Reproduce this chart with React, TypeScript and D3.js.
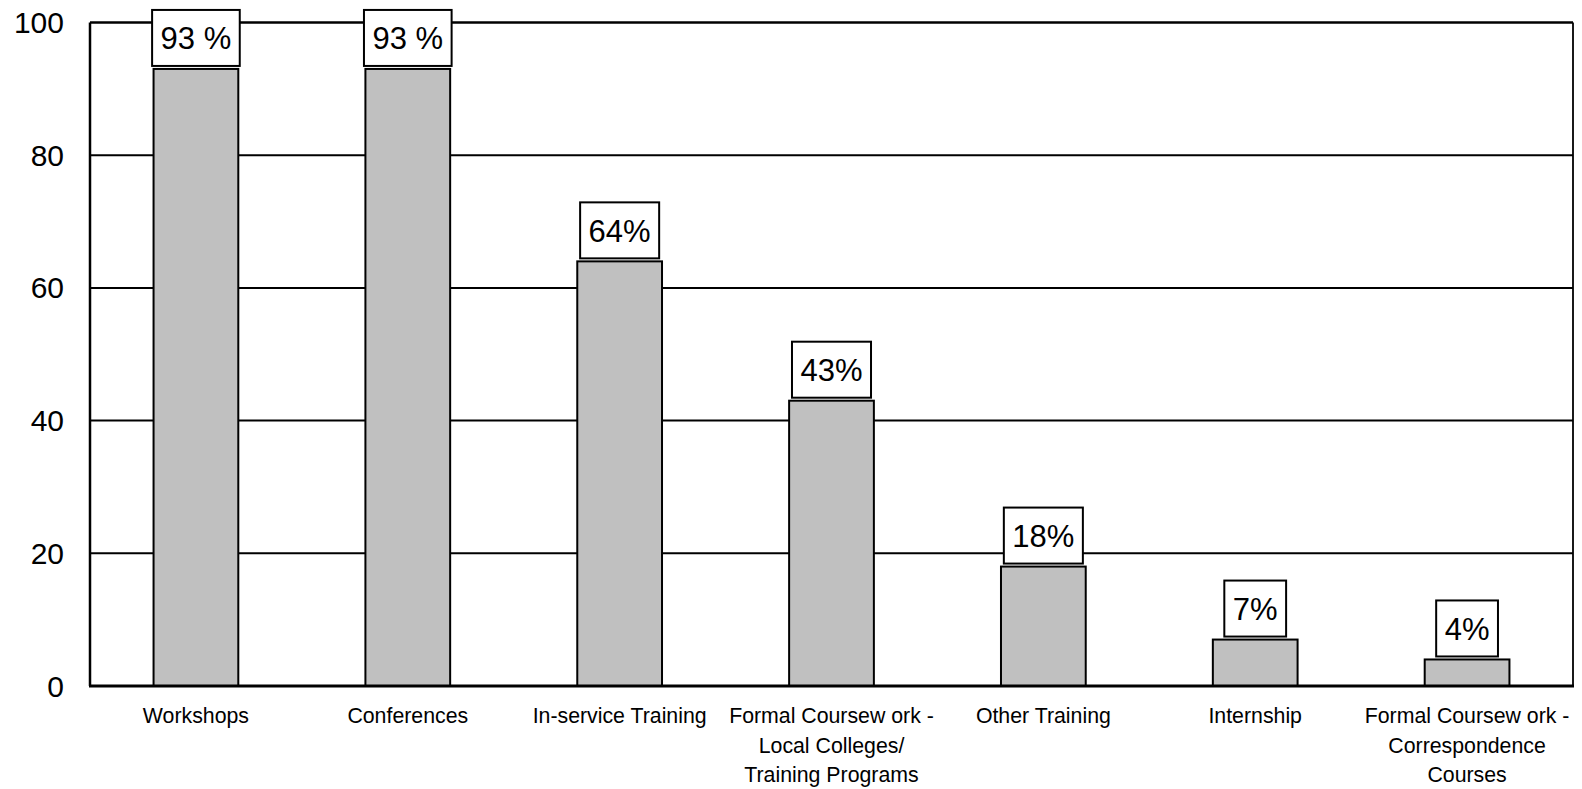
import React from "react";
import * as d3 from "d3";

const categories: string[][] = [
  ["Workshops"],
  ["Conferences"],
  ["In-service Training"],
  ["Formal Coursew ork -", "Local Colleges/", "Training Programs"],
  ["Other Training"],
  ["Internship"],
  ["Formal Coursew ork -", "Correspondence", "Courses"],
];
const values: number[] = [93, 93, 64, 43, 18, 7, 4];
const valueLabels: string[] = ["93 %", "93 %", "64%", "43%", "18%", "7%", "4%"];
const yTicks: number[] = [0, 20, 40, 60, 80, 100];

const W = 1582;
const H = 789;
const left = 90;
const right = 1573;
const top = 22.5;
const bottom = 686;
const font = "'Liberation Sans', Arial, sans-serif";

function textWidth(s: string, size: number): number {
  const w: Record<string, number> = { "%": 0.889, " ": 0.278 };
  let t = 0;
  for (const c of s) t += w[c] ?? 0.556;
  return t * size;
}

export default function App() {
  const x = d3
    .scaleBand<number>()
    .domain(d3.range(categories.length))
    .range([left, right])
    .paddingInner(0.6)
    .paddingOuter(0.3);
  const y = d3.scaleLinear().domain([0, 100]).range([bottom, top]);

  return (
    <svg width={W} height={H} style={{ position: "absolute", left: 0, top: 0, background: "#fff" }}>
      <rect x={0} y={0} width={W} height={H} fill="#fff" />
      {yTicks
        .filter((t) => t !== 0)
        .map((t) => (
          <line key={"g" + t} x1={left} x2={right} y1={y(t)} y2={y(t)} stroke="#000" strokeWidth={t === 100 ? 2.5 : 2} />
        ))}
      <line x1={left} x2={left} y1={top} y2={bottom} stroke="#000" strokeWidth={2.5} />
      <line x1={right} x2={right} y1={top} y2={bottom} stroke="#000" strokeWidth={1.8} />
      {values.map((v, i) => {
        const bx = x(i)!;
        const bw = x.bandwidth();
        const by = y(v);
        const cx = bx + bw / 2;
        const tw = textWidth(valueLabels[i], 31);
        const boxW = tw + 17;
        const boxH = 56;
        const boxBottom = by - 3;
        return (
          <g key={i}>
            <rect x={bx} y={by} width={bw} height={bottom - by} fill="#c0c0c0" stroke="#000" strokeWidth={2} />
            <rect x={cx - boxW / 2} y={boxBottom - boxH} width={boxW} height={boxH} fill="#fff" stroke="#000" strokeWidth={2} />
            <text x={cx} y={boxBottom - boxH / 2 + 11.3} textAnchor="middle" fontFamily={font} fontSize={31} fill="#000">
              {valueLabels[i]}
            </text>
          </g>
        );
      })}
      <line x1={left - 1} x2={right + 1} y1={bottom} y2={bottom} stroke="#000" strokeWidth={2.8} />
      {yTicks.map((t) => (
        <text key={"t" + t} x={64} y={y(t) + 10.5} textAnchor="end" fontFamily={font} fontSize={30} fill="#000">
          {t}
        </text>
      ))}
      {categories.map((lines, i) => {
        const cx = x(i)! + x.bandwidth() / 2;
        return (
          <text key={"c" + i} textAnchor="middle" fontFamily={font} fontSize={21.3} fill="#000">
            {lines.map((l, j) => (
              <tspan key={j} x={cx} y={723 + j * 29.5}>
                {l}
              </tspan>
            ))}
          </text>
        );
      })}
    </svg>
  );
}
